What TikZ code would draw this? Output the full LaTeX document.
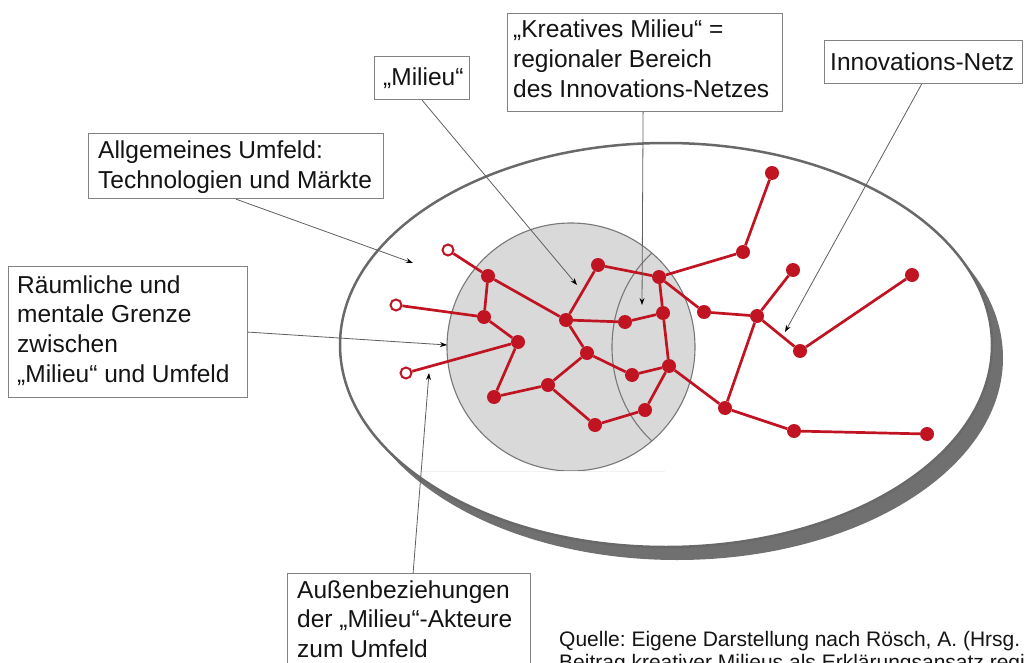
\documentclass[tikz,border=0pt]{standalone}
\usepackage{fontspec}
\setmainfont{Liberation Sans}
\usetikzlibrary{arrows.meta,calc}
\definecolor{netred}{RGB}{192,20,35}
\definecolor{ringgray}{RGB}{105,105,105}
\definecolor{shadowgray}{RGB}{112,112,112}
\definecolor{milfill}{RGB}{217,217,217}
\definecolor{milline}{RGB}{120,120,120}
\definecolor{boxgray}{RGB}{130,130,130}
\definecolor{arrowgray}{RGB}{95,95,95}
\definecolor{txt}{RGB}{20,20,20}
\frenchspacing
\begin{document}
\begin{tikzpicture}[x=1pt,y=-1pt,
  lbl/.style={anchor=base west, align=left, inner sep=0pt, font=\fontsize{24.5}{29.8}\selectfont, text=txt},
  box/.style={draw=boxgray, line width=1.2pt, fill=white, anchor=north west, inner sep=0pt},
  dot/.style={circle, fill=netred, inner sep=0pt, minimum size=14pt},
  odot/.style={circle, draw=netred, fill=white, line width=2pt, inner sep=0pt, minimum size=11pt},
  link/.style={netred, line width=2.7pt},
  callout/.style={draw=arrowgray, line width=0.8pt, -{Stealth[length=7pt,width=5pt,black]}}
]
\useasboundingbox (0,0) rectangle (1030,663);
\clip (0,0) rectangle (1030,663);

% outer ellipse with shadow
\fill[shadowgray] (677,358) ellipse [x radius=326pt, y radius=202pt];
\draw[ringgray, line width=2.5pt, fill=white] (666,345) ellipse [x radius=326pt, y radius=202pt];

% milieu circle
\draw[milline, line width=1.1pt, fill=milfill] (571,347) circle (124pt);
\begin{scope}
  \clip (571,347) circle (124pt);
  \draw[milline, line width=1.1pt] (720,347) ellipse [x radius=108pt, y radius=121pt];
\end{scope}
\draw[gray!10, line width=0.8pt] (420,471) -- (665,471);

% boxes
\node[box, minimum width=95pt, minimum height=43pt] (milbox) at (374,56) {};
\node[box, minimum width=295pt, minimum height=65pt] (allbox) at (88,133) {};
\node[box, minimum width=239pt, minimum height=131pt] (raumbox) at (8,266) {};
\node[box, minimum width=275pt, minimum height=98pt] (krbox) at (507,13) {};
\node[box, minimum width=198pt, minimum height=43pt] (innbox) at (824,40) {};
\node[box, minimum width=243pt, minimum height=112pt] (ausbox) at (287,573) {};

% texts (anchor base = baseline of the last line)
\node[lbl] (miltxt) at (383,86) {„Milieu“};
\node[lbl] (alltxt) at (98,188.8) {Allgemeines Umfeld:\\Technologien und Märkte};
\node[lbl] (raumtxt) at (17,382.4) {Räumliche und\\mentale Grenze\\zwischen\\„Milieu“ und Umfeld};
\node[lbl] (krtxt) at (513,97.1) {„Kreatives Milieu“ =\\regionaler Bereich\\des Innovations-Netzes};
\node[lbl] (inntxt) at (830,70.7) {Innovations-Netz};
\node[lbl] (austxt) at (297,657.6) {Außenbeziehungen\\der „Milieu“-Akteure\\zum Umfeld};
\node[anchor=base west, align=left, inner sep=0pt, font=\fontsize{21}{22.5}\selectfont, text=txt] (src) at (559,669.2)
  {Quelle: Eigene Darstellung nach Rösch, A. (Hrsg.\\Beitrag kreativer Milieus als Erklärungsansatz regi};

% network nodes
\node[odot] (O1) at (448,250) {};
\node[odot] (O2) at (396,305) {};
\node[odot] (O3) at (406,373) {};
\node[dot] (A) at (488,276) {};
\node[dot] (B) at (484,317) {};
\node[dot] (C) at (518,342) {};
\node[dot] (D) at (494,397) {};
\node[dot] (E) at (548,385) {};
\node[dot] (F) at (566,320) {};
\node[dot] (G) at (598,265) {};
\node[dot] (H) at (587,353) {};
\node[dot] (I) at (595,425) {};
\node[dot] (J) at (625,322) {};
\node[dot] (K) at (659,277) {};
\node[dot] (L) at (663,313) {};
\node[dot] (M) at (632,375) {};
\node[dot] (N) at (669,366) {};
\node[dot] (P) at (645,410) {};
\node[dot] (Q) at (743,252) {};
\node[dot] (R) at (772,173) {};
\node[dot] (S) at (704,312) {};
\node[dot] (T) at (757,316) {};
\node[dot] (U) at (793,270) {};
\node[dot] (V) at (800,351) {};
\node[dot] (W) at (912,275) {};
\node[dot] (X) at (725,408) {};
\node[dot] (Y) at (794,431) {};
\node[dot] (Z) at (927,434) {};

% network links
\foreach \a/\b in {O1/A,O2/B,O3/C,A/B,A/F,B/C,C/D,D/E,E/H,E/I,F/G,F/J,F/H,H/M,G/K,K/Q,Q/R,K/L,L/J,L/N,K/S,S/T,T/U,T/V,V/W,T/X,N/X,N/M,N/P,P/I,X/Y,Y/Z}
  \draw[link] (\a) -- (\b);

% callouts
\coordinate (t1) at (577,285);
\coordinate (t2) at (413,263);
\coordinate (t3) at (447,345);
\coordinate (t4) at (642,305);
\coordinate (t5) at (785,332);
\coordinate (t6) at (429,373);
\draw[callout] (milbox.south) -- (t1);
\draw[callout] (allbox.south) -- (t2);
\draw[callout] (raumbox.east) -- (t3);
\draw[callout] ([xshift=-2pt]krbox.south) -- (t4);
\draw[callout] ([xshift=-2pt]innbox.south) -- (t5);
\draw[callout] ([xshift=4pt]ausbox.north) -- (t6);
\end{tikzpicture}
\end{document}
